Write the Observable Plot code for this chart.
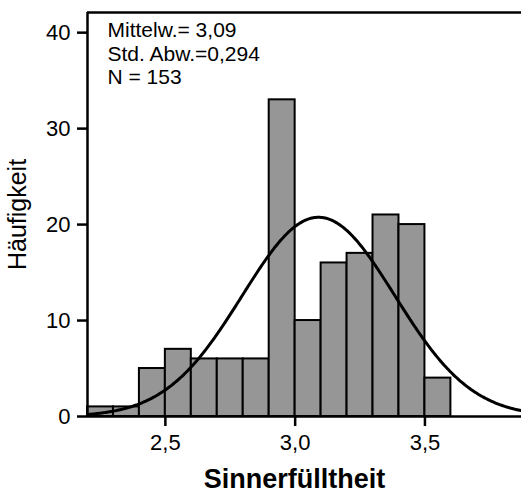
<!DOCTYPE html>
<html>
<head>
<meta charset="utf-8">
<script src="https://cdn.jsdelivr.net/npm/d3@7"></script>
<script src="https://cdn.jsdelivr.net/npm/@observablehq/plot@0.6"></script>
<style>
  html, body { margin: 0; padding: 0; background: #fff; }
</style>
</head>
<body>
<div id="chart"></div>
<script>
// Histogram bins (lower / upper edges) and counts
const binStart = [2.2, 2.3, 2.4, 2.5, 2.6, 2.7, 2.8, 2.9, 3.0, 3.1, 3.2, 3.3, 3.4, 3.5];
const binEnd   = [2.3, 2.4, 2.5, 2.6, 2.7, 2.8, 2.9, 3.0, 3.1, 3.2, 3.3, 3.4, 3.5, 3.6];
const counts   = [1, 1, 5, 7, 6, 6, 6, 33, 10, 16, 17, 21, 20, 4];

// Summary statistics shown in the chart
const mean = 3.09;
const sd = 0.294;
const n = 153;
const binWidth = 0.1;

const xTicks = [2.5, 3.0, 3.5];
const yTicks = [0, 10, 20, 30, 40];
const xDomain = [2.2, 3.872];
const yDomain = [0, 42.1];

const bars = binStart.map((s, i) => ({x1: s, x2: binEnd[i], count: counts[i]}));

// Fitted normal curve defined by the displayed mean, SD and N
const curve = d3.range(xDomain[0], xDomain[1] + 0.005, 0.005).map(x => ({
  x,
  y: n * binWidth / (sd * Math.sqrt(2 * Math.PI)) * Math.exp(-0.5 * ((x - mean) / sd) ** 2)
}));

const statsText = "Mittelw.= 3,09\nStd. Abw.=0,294\nN = 153";

const chart = Plot.plot({
  width: 521,
  height: 493,
  marginLeft: 87,
  marginRight: 0,
  marginTop: 12,
  marginBottom: 77,
  style: {fontFamily: "Arial, 'Liberation Sans', sans-serif", background: "#fff", color: "#000"},
  x: {domain: xDomain},
  y: {domain: yDomain},
  marks: [
    Plot.rectY(bars, {x1: "x1", x2: "x2", y: "count", fill: "#969696", stroke: "#000", strokeWidth: 2}),
    Plot.line(curve, {x: "x", y: "y", stroke: "#000", strokeWidth: 3, clip: true}),
    Plot.ruleY([yDomain[0]], {stroke: "#000", strokeWidth: 2.5}),
    Plot.ruleY([yDomain[1]], {stroke: "#000", strokeWidth: 2.5}),
    Plot.ruleX([xDomain[0]], {stroke: "#000", strokeWidth: 2.5}),
    Plot.axisX({ticks: xTicks, tickFormat: d => d.toFixed(1).replace(".", ","), tickSize: 10, tickPadding: 8, fontSize: 22, strokeWidth: 2.5, label: null}),
    Plot.axisY({ticks: yTicks, tickSize: 10, tickPadding: 7, fontSize: 22, strokeWidth: 2.5, label: null}),
    Plot.text([statsText], {frameAnchor: "top-left", textAnchor: "start", lineAnchor: "top", dx: 20, dy: 8, fontSize: 21, lineHeight: 1.12, fill: "#000"}),
    Plot.text(["Häufigkeit"], {frameAnchor: "left", textAnchor: "middle", lineAnchor: "middle", dx: -70, rotate: -90, fontSize: 25, fill: "#000"}),
    Plot.text(["Sinnerfülltheit"], {frameAnchor: "bottom", textAnchor: "middle", lineAnchor: "middle", dx: -10, dy: 63, fontSize: 27, fontWeight: "bold", fill: "#000"})
  ]
});

document.getElementById("chart").appendChild(chart);
</script>
</body>
</html>
